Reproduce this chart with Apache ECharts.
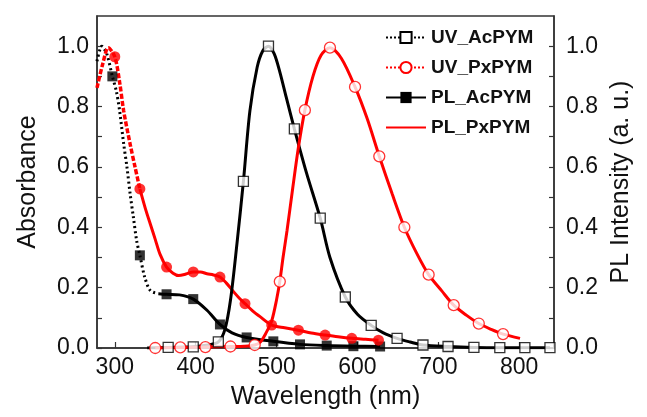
<!DOCTYPE html>
<html><head><meta charset="utf-8">
<script src="https://cdn.jsdelivr.net/npm/echarts@6/dist/echarts.min.js"></script>
<style>html,body{margin:0;padding:0;background:#fff}#c{width:647px;height:417px}</style>
</head><body><div id="c"></div>
<script>
// ---- tick labels ----
const xTicks = [300, 400, 500, 600, 700, 800];
const yTicks = [0, 0.2, 0.4, 0.6, 0.8, 1.0];
const yAllTicks = [0, 0.1, 0.2, 0.3, 0.4, 0.5, 0.6, 0.7, 0.8, 0.9, 1.0];

// ---- UV_AcPYM (absorbance, black) ----
const uvAcWl  = [278, 284, 290, 297, 302, 306, 311, 315, 319, 323, 327, 331, 337, 344, 354, 364, 380, 397, 414, 430, 445, 463, 496, 529, 562, 595, 628];
const uvAcVal = [0.95, 1.0, 0.975, 0.90, 0.85, 0.785, 0.676, 0.60, 0.51, 0.433, 0.356, 0.307, 0.235, 0.19, 0.18, 0.178, 0.176, 0.162, 0.125, 0.078, 0.05, 0.035, 0.022, 0.012, 0.008, 0.006, 0.005];
const uvAcMarks = [297, 331, 364, 397, 430, 463, 496, 529, 562, 595, 628];
const uvAcDotEnd = 354;

// ---- UV_PxPYM (absorbance, red) ----
const uvPxWl  = [278, 285, 292, 300, 306, 311, 319, 325, 331, 338, 344, 350, 356, 364, 372, 379, 388, 397, 406, 414, 422, 430, 438, 447, 454, 461, 470, 480, 494, 510, 527, 543, 560, 576, 593, 610, 626];
const uvPxVal = [0.862, 0.94, 0.995, 0.965, 0.88, 0.785, 0.675, 0.60, 0.527, 0.46, 0.41, 0.36, 0.31, 0.268, 0.248, 0.24, 0.245, 0.252, 0.252, 0.246, 0.242, 0.235, 0.215, 0.186, 0.165, 0.147, 0.124, 0.103, 0.076, 0.067, 0.059, 0.05, 0.043, 0.037, 0.032, 0.029, 0.026];
const uvPxMarks = [300, 331, 364, 397, 430, 461, 494, 527, 560, 593, 626];
const uvPxDashEnd = 331;

// ---- PL_AcPYM (PL, black) ----
const plAcWl  = [340, 366, 397, 415, 428, 436, 443, 451, 459, 467, 476, 483, 490, 497, 504, 512, 522, 537, 554, 566, 585, 600, 617, 632, 649, 665, 681, 712, 744, 776, 807, 838];
const plAcVal = [0, 0.002, 0.004, 0.01, 0.02, 0.06, 0.158, 0.345, 0.552, 0.785, 0.93, 0.985, 1.0, 0.975, 0.915, 0.83, 0.726, 0.58, 0.43, 0.30, 0.169, 0.112, 0.075, 0.05, 0.032, 0.02, 0.01, 0.005, 0.002, 0.001, 0.001, 0.001];
const plAcMarks = [366, 397, 428, 459, 490, 522, 554, 585, 617, 649, 681, 712, 744, 776, 807, 838];

// ---- PL_PxPYM (PL, red) ----
const plPxWl  = [350, 381, 412, 443, 460, 473, 480, 487, 494, 500, 504, 508, 513, 520, 527, 535, 545, 555, 566, 580, 597, 612, 627, 643, 658, 673, 688, 704, 719, 735, 750, 765, 780, 801];
const plPxVal = [0, 0.002, 0.003, 0.005, 0.006, 0.01, 0.02, 0.05, 0.09, 0.16, 0.22, 0.30, 0.39, 0.53, 0.664, 0.788, 0.90, 0.97, 0.995, 0.96, 0.865, 0.76, 0.635, 0.51, 0.40, 0.315, 0.243, 0.19, 0.142, 0.108, 0.081, 0.062, 0.046, 0.032];
const plPxMarks = [350, 381, 412, 443, 473, 504, 535, 566, 597, 627, 658, 688, 719, 750, 780];

const legendNames = ['UV_AcPYM', 'UV_PxPYM', 'PL_AcPYM', 'PL_PxPYM'];

function pairs(wl, val, f) { return wl.map((w, i) => [w, val[i]]).filter(p => !f || f(p[0])); }
function marks(wl, val, m) { return m.map(w => [w, val[wl.indexOf(w)]]); }

const FONT = '"Liberation Sans", Arial, sans-serif';
const BLACK = '#000', RED = '#ff0000';
const LW = 3;
const SM = 0.3;

const chart = echarts.init(document.getElementById('c'), null, {renderer: 'canvas'});
const axisCommon = {
  axisLine: {show: true, onZero: false, lineStyle: {color: '#333', width: 1.5}},
  splitLine: {show: false},
};
chart.setOption({
  animation: false,
  backgroundColor: '#fff',
  grid: {left: 97, right: 93, top: 16, bottom: 69, show: true, borderColor: '#333', borderWidth: 1.5, containLabel: false},
  legend: {
    data: legendNames, orient: 'vertical', left: 380, top: 23,
    itemWidth: 40, itemHeight: 14, itemGap: 11,
    textStyle: {fontFamily: FONT, fontWeight: 'bold', fontSize: 19, color: '#111'},
  },
  xAxis: Object.assign({}, axisCommon, {
    type: 'value', min: 278, max: 843,
    name: 'Wavelength (nm)', nameLocation: 'middle', nameGap: 37,
    nameTextStyle: {fontFamily: FONT, fontSize: 25, color: '#111'},
    axisTick: {show: true, inside: true, length: 6, customValues: xTicks, lineStyle: {color: '#333', width: 1.2}},
    axisLabel: {customValues: xTicks, fontFamily: FONT, fontSize: 23, color: '#111', margin: 8},
  }),
  yAxis: [
    Object.assign({}, axisCommon, {
      type: 'value', min: 0, max: 1.1, position: 'left',
      name: 'Absorbance', nameLocation: 'middle', nameGap: 56, nameRotate: 90,
      nameTextStyle: {fontFamily: FONT, fontSize: 25, color: '#111'},
      axisTick: {show: true, inside: true, length: 5, customValues: yAllTicks, lineStyle: {color: '#333', width: 1.2}},
      axisLabel: {customValues: yTicks, formatter: v => v.toFixed(1), fontFamily: FONT, fontSize: 23, color: '#111', margin: 8},
    }),
    Object.assign({}, axisCommon, {
      type: 'value', min: 0, max: 1.1, position: 'right',
      name: 'PL Intensity (a. u.)', nameLocation: 'middle', nameGap: 55, nameRotate: 90,
      nameTextStyle: {fontFamily: FONT, fontSize: 25, color: '#111'},
      axisTick: {show: true, inside: true, length: 5, customValues: yAllTicks, lineStyle: {color: '#333', width: 1.2}},
      axisLabel: {customValues: yTicks, formatter: v => v.toFixed(1), fontFamily: FONT, fontSize: 23, color: '#111', margin: 12},
    }),
  ],
  series: [
    // legend-only entries
    {name: 'UV_AcPYM', type: 'line', data: [], symbol: 'rect', symbolSize: 11,
     lineStyle: {color: BLACK, width: LW, type: 'dotted'}, itemStyle: {color: '#fff', borderColor: BLACK, borderWidth: 1.5}},
    {name: 'UV_PxPYM', type: 'line', data: [], symbol: 'circle', symbolSize: 11,
     lineStyle: {color: RED, width: LW, type: 'dotted'}, itemStyle: {color: '#fff', borderColor: RED, borderWidth: 1.5}},
    {name: 'PL_AcPYM', type: 'line', data: [], symbol: 'rect', symbolSize: 11,
     lineStyle: {color: BLACK, width: LW}, itemStyle: {color: BLACK, borderColor: BLACK, borderWidth: 0}},
    {name: 'PL_PxPYM', type: 'line', data: [], symbol: 'circle', symbolSize: 1,
     lineStyle: {color: RED, width: LW}, itemStyle: {color: 'rgba(0,0,0,0)', borderWidth: 0, opacity: 0}},

    // UV_AcPYM drawn
    {name: 'uvAcDot', type: 'line', yAxisIndex: 0, showSymbol: false, silent: true, z: 3, smooth: SM,
     data: pairs(uvAcWl, uvAcVal, w => w <= uvAcDotEnd), lineStyle: {color: BLACK, width: LW, type: [2, 3]}},
    {name: 'uvAcSolid', type: 'line', yAxisIndex: 0, showSymbol: false, silent: true, z: 3, smooth: SM,
     data: pairs(uvAcWl, uvAcVal, w => w >= uvAcDotEnd), lineStyle: {color: BLACK, width: LW}},
    {name: 'uvAcMk', type: 'scatter', yAxisIndex: 0, silent: true, z: 4, symbol: 'rect', symbolSize: 10,
     data: marks(uvAcWl, uvAcVal, uvAcMarks), itemStyle: {color: BLACK}},

    // UV_PxPYM drawn
    {name: 'uvPxDash', type: 'line', yAxisIndex: 0, showSymbol: false, silent: true, z: 3, smooth: SM,
     data: pairs(uvPxWl, uvPxVal, w => w <= uvPxDashEnd), lineStyle: {color: RED, width: LW + 0.5, type: [5, 2]}},
    {name: 'uvPxSolid', type: 'line', yAxisIndex: 0, showSymbol: false, silent: true, z: 3, smooth: SM,
     data: pairs(uvPxWl, uvPxVal, w => w >= uvPxDashEnd), lineStyle: {color: RED, width: LW}},
    {name: 'uvPxMk', type: 'scatter', yAxisIndex: 0, silent: true, z: 4, symbol: 'circle', symbolSize: 11,
     data: marks(uvPxWl, uvPxVal, uvPxMarks), itemStyle: {color: RED}},

    // PL_AcPYM drawn
    {name: 'plAcLine', type: 'line', yAxisIndex: 1, showSymbol: false, silent: true, z: 5, smooth: SM,
     data: pairs(plAcWl, plAcVal), lineStyle: {color: BLACK, width: LW}},
    {name: 'plAcMk', type: 'scatter', yAxisIndex: 1, silent: true, z: 6, symbol: 'rect', symbolSize: 10,
     data: marks(plAcWl, plAcVal, plAcMarks), itemStyle: {color: '#fff', borderColor: BLACK, borderWidth: 1.3}},

    // PL_PxPYM drawn
    {name: 'plPxLine', type: 'line', yAxisIndex: 1, showSymbol: false, silent: true, z: 5, smooth: SM,
     data: pairs(plPxWl, plPxVal), lineStyle: {color: RED, width: LW}},
    {name: 'plPxMk', type: 'scatter', yAxisIndex: 1, silent: true, z: 6, symbol: 'circle', symbolSize: 11,
     data: marks(plPxWl, plPxVal, plPxMarks), itemStyle: {color: '#fff', borderColor: RED, borderWidth: 1.3}},
  ]
});
</script>
</body></html>
